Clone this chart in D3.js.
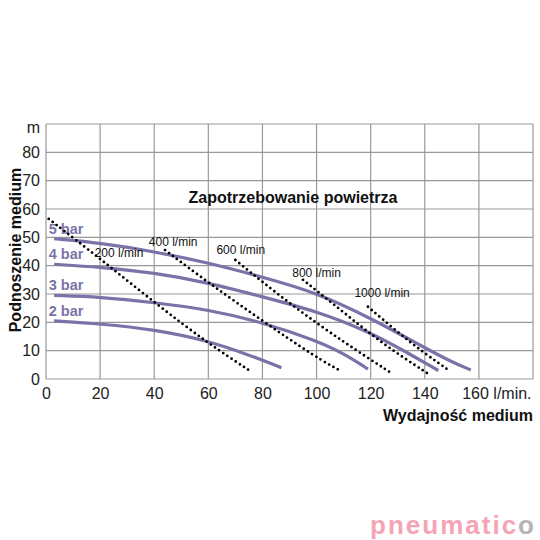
<!DOCTYPE html><html><head><meta charset="utf-8"><script src="https://cdn.jsdelivr.net/npm/d3@7"></script>
<style>body{margin:0;background:#fff}text{font-family:"Liberation Sans",Arial,sans-serif}</style></head><body>
<svg id="c" width="540" height="540"></svg>
<script>
const xTicks=[0,20,40,60,80,100,120,140];
const yTicks=[0,10,20,30,40,50,60,70,80];
const pumpNames=["5 bar","4 bar","3 bar","2 bar"];
const pump5=[[3,49.5],[20,48],[40,45],[60,41],[80,36],[100,30.5],[120,21.5],[140,11],[150,6],[157,3.2]];
const pump4=[[3,40.5],[20,39.5],[40,37.5],[60,34],[80,29],[100,24],[120,16.5],[135,8.5],[145,3]];
const pump3=[[3,29.5],[20,29],[40,27],[60,24.5],[80,20],[100,13.5],[110,9],[119,3.5]];
const pump2=[[3,20.5],[20,19.5],[40,17.5],[60,13.5],[75,8.5],[87,4]];
const airNames=["200 l/min","400 l/min","600 l/min","800 l/min","1000 l/min"];
const air200=[[1,56.5],[20,42.5],[40,27],[60,12.5],[76,2.5]];
const air400=[[44,45.5],[60,34],[80,20.5],[100,7.5],[109,2.8]];
const air600=[[70,42],[90,26.5],[110,13],[127,2.5]];
const air800=[[95,35],[110,23.5],[125,12],[141,2]];
const air1000=[[119,25.5],[130,16.5],[140,9],[149,3]];
const pumps=[pump5,pump4,pump3,pump2], airs=[air200,air400,air600,air800,air1000];
const svg=d3.select("#c");
const x=d3.scaleLinear([0,180],[46,533]), y=d3.scaleLinear([0,90],[379,124]);
const g=svg.append("g");
d3.range(0,181,20).forEach(v=>g.append("line").attr("x1",x(v)).attr("x2",x(v)).attr("y1",y(0)).attr("y2",y(90)).attr("stroke","#999").attr("stroke-width",1.2));
d3.range(0,91,10).forEach(v=>g.append("line").attr("x1",x(0)).attr("x2",x(180)).attr("y1",y(v)).attr("y2",y(v)).attr("stroke","#999").attr("stroke-width",1.2));
const xa=svg.append("g").attr("transform",`translate(0,${y(0)})`).call(d3.axisBottom(x).tickValues(xTicks).tickSize(0).tickPadding(9));
xa.select(".domain").remove();xa.selectAll("text").attr("font-size",16).attr("fill","#222").style("font-family","Liberation Sans");
svg.append("text").attr("x",x(160)+18).attr("y",y(0)+9).attr("dy","0.71em").attr("text-anchor","middle").attr("font-size",16).attr("fill","#222").text("160 l/min.");
const ya=svg.append("g").attr("transform",`translate(${x(0)},0)`).call(d3.axisLeft(y).tickValues(yTicks).tickSize(0).tickPadding(6));
ya.select(".domain").remove();ya.selectAll("text").attr("font-size",16).attr("fill","#222").style("font-family","Liberation Sans");
svg.append("text").attr("x",x(0)-6).attr("y",y(88.5)+5).attr("text-anchor","end").attr("font-size",16).attr("fill","#222").text("m");
svg.append("text").attr("transform",`translate(21,${y(45.5)}) rotate(-90)`).attr("text-anchor","middle").attr("font-size",16).attr("font-weight","bold").attr("fill","#111").text("Podnoszenie medium");
svg.append("text").attr("x",533).attr("y",421).attr("text-anchor","end").attr("font-size",16).attr("font-weight","bold").attr("fill","#111").text("Wydajność medium");
svg.append("text").attr("x",293).attr("y",203).attr("text-anchor","middle").attr("font-size",16).attr("font-weight","bold").attr("fill","#111").text("Zapotrzebowanie powietrza");
const line=d3.line().x(d=>x(d[0])).y(d=>y(d[1])).curve(d3.curveBasis);
pumps.forEach((p,i)=>{svg.append("path").attr("d",line(p)).attr("fill","none").attr("stroke","#7a73a8").attr("stroke-width",3.2);
 svg.append("text").attr("x",x(1)).attr("y",y(p[0][1])-5).attr("font-size",14.5).attr("font-weight","bold").attr("fill","#7a73a8").text(pumpNames[i]);});
airs.forEach((a,i)=>{svg.append("path").attr("d",line(a)).attr("fill","none").attr("stroke","#000").attr("stroke-width",2.8).attr("stroke-linecap","round").attr("stroke-dasharray","0 5");
 const lp=[[18,43],[38,47],[63,44],[91,36],[114,29]][i];
 svg.append("text").attr("x",x(lp[0])).attr("y",y(lp[1])).attr("font-size",12).attr("fill","#111").text(airNames[i]);});
const logo=svg.append("text").attr("x",536).attr("y",534).attr("text-anchor","end").attr("font-size",26).attr("font-weight","bold").attr("letter-spacing",2);
logo.append("tspan").attr("fill","#f4a4b4").text("pneumatic");logo.append("tspan").attr("fill","#b4b4b4").text("o");
</script></body></html>
